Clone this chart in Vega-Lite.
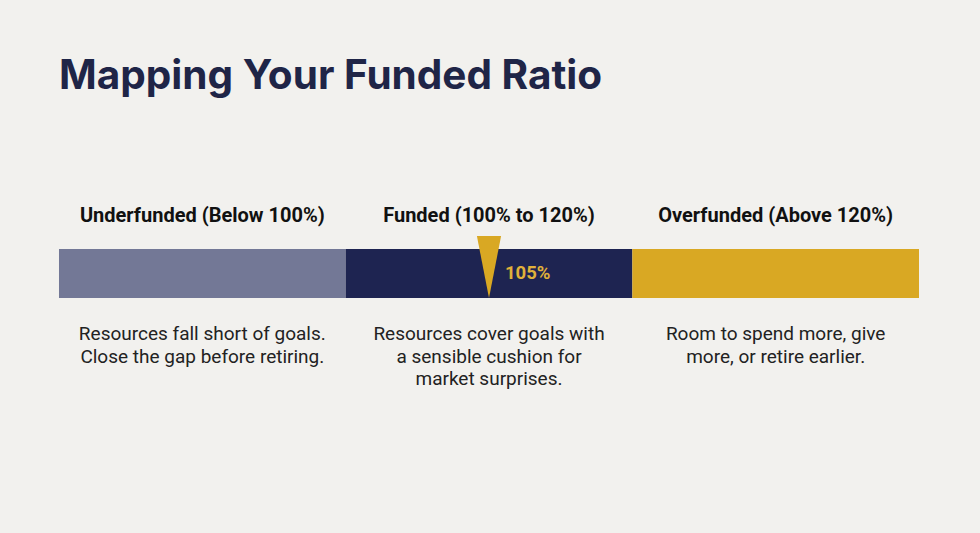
{
  "$schema": "https://vega.github.io/schema/vega-lite/v6.json",
  "width": 980,
  "height": 533,
  "autosize": {"type": "fit", "contains": "padding"},
  "padding": 0,
  "background": "#F2F1EE",
  "config": {"view": {"stroke": null}},
  "datasets": {
    "segments": [
      {"segment": "Underfunded", "start": 0, "end": 1, "header": "Underfunded (Below 100%)", "mid": 0.5, "desc": "Resources fall short of goals.\nClose the gap before retiring."},
      {"segment": "Funded", "start": 1, "end": 2, "header": "Funded (100% to 120%)", "mid": 1.5, "desc": "Resources cover goals with\na sensible cushion for\nmarket surprises."},
      {"segment": "Overfunded", "start": 2, "end": 3, "header": "Overfunded (Above 120%)", "mid": 2.5, "desc": "Room to spend more, give\nmore, or retire earlier."}
    ],
    "marker": [{"pos": 1.5, "label": "105%", "ratio": 105}],
    "title": [{"text": "Mapping Your Funded Ratio"}]
  },
  "layer": [
    {
      "data": {"name": "segments"},
      "mark": {"type": "rect"},
      "encoding": {
        "x": {"field": "start", "type": "quantitative", "scale": {"domain": [-0.2058, 3.2128], "nice": false, "zero": false}, "axis": null},
        "x2": {"field": "end"},
        "y": {"datum": 0, "type": "quantitative", "scale": {"domain": [-4.7, 5.96], "nice": false, "zero": false}, "axis": null},
        "y2": {"datum": 0.98},
        "color": {"field": "segment", "type": "nominal", "scale": {"domain": ["Underfunded", "Funded", "Overfunded"], "range": ["#737896", "#1E2451", "#D9A823"]}, "legend": null}
      }
    },
    {
      "data": {"name": "segments"},
      "mark": {"type": "text", "font": "Roboto", "fontWeight": "bold", "fontSize": 20, "color": "#111111", "align": "center", "baseline": "middle"},
      "encoding": {
        "x": {"field": "mid", "type": "quantitative"},
        "y": {"datum": 1.64, "type": "quantitative"},
        "text": {"field": "header"}
      }
    },
    {
      "data": {"name": "segments"},
      "mark": {"type": "text", "font": "Roboto", "fontSize": 19, "color": "#222222", "align": "center", "baseline": "top", "lineBreak": "\n", "lineHeight": 22.5},
      "encoding": {
        "x": {"field": "mid", "type": "quantitative"},
        "y": {"datum": -0.54, "type": "quantitative"},
        "text": {"field": "desc"}
      }
    },
    {
      "data": {"name": "marker"},
      "mark": {"type": "point", "filled": true, "color": "#D9A823", "opacity": 1, "shape": "M-0.39,-1L0.39,-1L0,1Z", "size": 3844},
      "encoding": {
        "x": {"field": "pos", "type": "quantitative"},
        "y": {"datum": 0.62, "type": "quantitative"}
      }
    },
    {
      "data": {"name": "marker"},
      "mark": {"type": "text", "font": "Roboto", "fontWeight": "bold", "fontSize": 18.5, "color": "#E0B13A", "align": "left", "baseline": "middle", "dx": 16},
      "encoding": {
        "x": {"field": "pos", "type": "quantitative"},
        "y": {"datum": 0.5, "type": "quantitative"},
        "text": {"field": "label"}
      }
    },
    {
      "data": {"name": "title"},
      "mark": {"type": "text", "font": "Inter", "fontWeight": "bold", "fontSize": 40.5, "color": "#1F2547", "align": "left", "baseline": "middle"},
      "encoding": {
        "x": {"datum": 0, "type": "quantitative"},
        "y": {"datum": 4.42, "type": "quantitative"},
        "text": {"field": "text"}
      }
    }
  ]
}
